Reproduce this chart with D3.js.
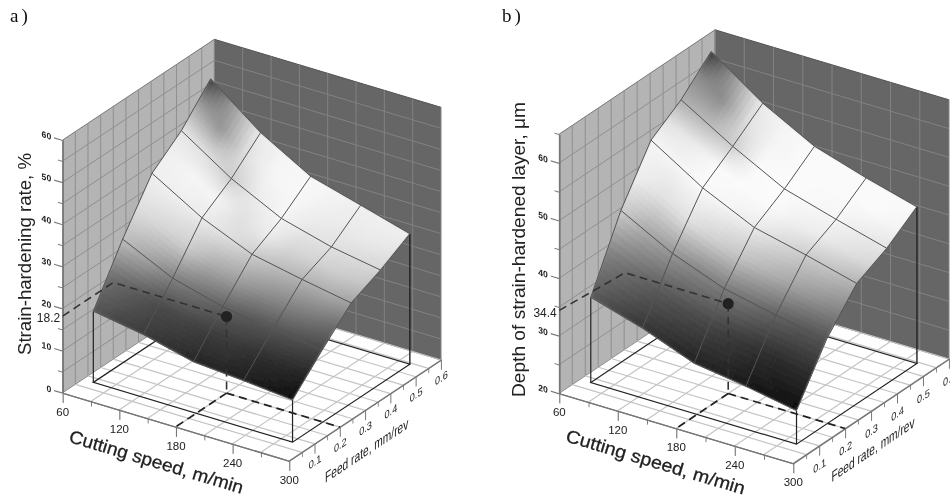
<!DOCTYPE html>
<html>
<head>
<meta charset="utf-8">
<script src="https://cdn.jsdelivr.net/npm/d3@7"></script>
<style>
  body { margin: 0; background: #fff; }
  svg { display: block; }
  text { font-family: "Liberation Sans", Arial, sans-serif; fill: #222; }
  .tag { font-family: "Liberation Serif", serif; font-size: 19px; letter-spacing: 3px; fill: #111; }
</style>
</head>
<body>
<svg id="chart" width="950" height="497">
  <defs>
    <filter id="soft" filterUnits="userSpaceOnUse" x="0" y="0" width="950" height="497"><feGaussianBlur stdDeviation="0.4"/></filter>
    <filter id="softer" filterUnits="userSpaceOnUse" x="0" y="0" width="950" height="497"><feGaussianBlur stdDeviation="1"/></filter>
  </defs>
</svg>
<script>
var speedTicks = [60, 120, 180, 240, 300]
var speedMinor = [90, 150, 210, 270]
var feedTicks = [0.1, 0.2, 0.3, 0.4, 0.5, 0.6]
var feedMinor = [0.05, 0.15, 0.25, 0.35, 0.45, 0.55]
var speedGrid = [60, 90, 120, 150, 180, 210, 240, 270, 300]
var feedGrid = [0, 0.05, 0.1, 0.15, 0.2, 0.25, 0.3, 0.35, 0.4, 0.45, 0.5, 0.55, 0.6]

// surface nodes, same for both charts
var surfSpeeds = [71, 124, 177, 230, 282]
var surfFeeds = [0.08, 0.196, 0.312, 0.428, 0.544]

var zTicksA = [0, 10, 20, 30, 40, 50, 60]
var zMinorA = [5, 15, 25, 35, 45, 55]
var zGridA = [0, 5, 10, 15, 20, 25, 30, 35, 40, 45, 50, 55, 60]
var zTicksB = [20, 30, 40, 50, 60]
var zMinorB = [25, 35, 45, 55, 65]
var zGridB = [20, 25, 30, 35, 40, 45, 50, 55, 60, 65]

// rows = feed (front to back), columns = speed
var surfA = [
  [16.9, 14.9, 12.0, 11.1, 10.0],
  [29.4, 23.7, 20.5, 18.7, 17.1],
  [40.4, 33.4, 28.3, 25.9, 23.8],
  [45.9, 38.1, 32.2, 29.0, 27.0],
  [53.6, 44.4, 37.6, 34.3, 31.0]
]
var surfB = [
  [34.8, 32.1, 28.7, 27.4, 25.8],
  [46.4, 41.6, 38.2, 36.3, 34.7],
  [55.1, 49.5, 45.3, 43.2, 40.9],
  [58.6, 53.2, 48.5, 45.9, 43.5],
  [63.5, 57.2, 52.4, 49.6, 47.2]
]

// grey level at half grid steps
var shadeA = [
  [85, 70, 60, 50, 40, 38, 32, 25, 15],
  [115, 95, 75, 70, 60, 58, 50, 45, 40],
  [190, 165, 130, 115, 100, 90, 85, 80, 72],
  [225, 215, 205, 175, 160, 145, 135, 125, 110],
  [240, 240, 235, 225, 205, 190, 180, 175, 165],
  [240, 245, 245, 225, 235, 215, 210, 205, 195],
  [230, 225, 205, 235, 245, 230, 225, 220, 215],
  [165, 150, 225, 245, 248, 240, 235, 235, 230],
  [60, 160, 235, 245, 248, 245, 240, 240, 240]
]
var shadeB = [
  [90, 70, 55, 45, 35, 35, 25, 20, 15],
  [130, 110, 90, 80, 70, 60, 50, 45, 45],
  [205, 170, 150, 135, 125, 115, 100, 90, 85],
  [240, 225, 225, 210, 195, 180, 165, 150, 135],
  [245, 245, 250, 245, 235, 220, 205, 195, 180],
  [225, 235, 250, 250, 250, 240, 235, 225, 215],
  [175, 185, 205, 250, 252, 248, 245, 235, 230],
  [140, 140, 225, 245, 250, 250, 250, 250, 245],
  [55, 160, 235, 245, 250, 250, 250, 250, 250]
]

// dashed guide: [speed, feed, z]
var guideA = [[60, 0, 18.2], [60, 0.2, 18.2], [180, 0.2, 18.2]]
var guideB = [[60, 0, 34.4], [60, 0.253, 33.3], [180, 0.2, 35.6]]

var svg = d3.select('#chart')
var SUB = 12 //paint steps per surface cell

drawPanel({
  id: 'a', tag: 'a)', tagX: 10,
  origin: [62.7, 392.7], speedVec: [226.6, 68], feedVec: [151.7, -100.7], zHeight: 252.7,
  zDomain: [0, 60], zTicks: zTicksA, zMinor: zMinorA, zGrid: zGridA,
  surf: surfA, shade: shadeA, guide: guideA, reading: '18.2',
  zTitle: 'Strain-hardening rate, %', zTitleX: 30.7, zTitleY: 254, zTitleLen: 202,
  speedTitleAt: [156.5, 461.5], speedTitleLen: 181,
  feedTitleAt: [366.7, 450], feedLabelPad: 4.1
})

drawPanel({
  id: 'b', tag: 'b)', tagX: 502,
  origin: [559.3, 393.3], speedVec: [234, 70], feedVec: [155.7, -104.3], zHeight: 259.2,
  zDomain: [20, 65], zTicks: zTicksB, zMinor: zMinorB, zGrid: zGridB,
  surf: surfB, shade: shadeB, guide: guideB, reading: '34.4',
  zTitle: 'Depth of strain-hardened layer, \u03bcm', zTitleX: 524.5, zTitleY: 249.5, zTitleLen: 295,
  speedTitleAt: [655.8, 461.7], speedTitleLen: 186,
  feedTitleAt: [873, 449], feedLabelPad: 6.1
})

function drawPanel(c) {
  var speedS = d3.scaleLinear().domain([60, 300]).range([0, 1])
  var feedS = d3.scaleLinear().domain([0, 0.6]).range([0, 1])
  var zS = d3.scaleLinear().domain(c.zDomain).range([0, c.zHeight])
  var zMin = c.zDomain[0], zMax = c.zDomain[1]

  function project(s, f, z) {
    var a = speedS(s), b = feedS(f)
    return [
      c.origin[0] + a * c.speedVec[0] + b * c.feedVec[0],
      c.origin[1] + a * c.speedVec[1] + b * c.feedVec[1] - zS(z)
    ]
  }

  var g = svg.append('g').attr('filter', 'url(#soft)')
  var line = d3.line()
  function poly(pts, fill) { g.append('path').attr('d', line(pts) + 'Z').attr('fill', fill) }
  function seg(pts, stroke, w, dash) {
    g.append('path').attr('d', line(pts)).attr('fill', 'none')
      .attr('stroke', stroke).attr('stroke-width', w).attr('stroke-dasharray', dash || null)
  }

  g.append('text').attr('class', 'tag').attr('x', c.tagX).attr('y', 21.5).text(c.tag)

  // walls
  poly([project(60, 0, zMin), project(60, 0.6, zMin), project(60, 0.6, zMax), project(60, 0, zMax)], '#b4b4b4')
  poly([project(60, 0.6, zMin), project(300, 0.6, zMin), project(300, 0.6, zMax), project(60, 0.6, zMax)], '#666')

  c.zGrid.forEach(function(z) {
    seg([project(60, 0, z), project(60, 0.6, z)], z == zMax ? '#777' : '#8f8f8f', 1)
    seg([project(60, 0.6, z), project(300, 0.6, z)], z == zMax ? '#555' : '#828282', 1)
  })
  feedGrid.forEach(function(f) {
    seg([project(60, f, zMin), project(60, f, zMax)], '#8f8f8f', 1)
    if (f > 0) seg([project(60, f, zMin), project(300, f, zMin)], '#c4c4c4', 1.2)
  })
  speedGrid.forEach(function(s) {
    seg([project(s, 0.6, zMin), project(s, 0.6, zMax)], '#828282', 1)
    if (s > 60) seg([project(s, 0, zMin), project(s, 0.6, zMin)], '#c4c4c4', 1.2)
  })

  // axes share the floor's shear, ticks stay vertical
  function shear(vec, o) {
    var len = Math.hypot(vec[0], vec[1])
    return { len: len, tf: 'matrix(' + [vec[0] / len, vec[1] / len, 0, 1, o[0], o[1]].join(',') + ')' }
  }
  function styleAxis(sel, w) {
    sel.selectAll('path.domain').attr('stroke', '#777').attr('stroke-width', 1.3)
    sel.selectAll('line').attr('stroke', '#777').attr('stroke-width', w)
  }

  var sA = shear(c.speedVec, c.origin)
  var sx = d3.scaleLinear().domain([60, 300]).range([0, sA.len])
  g.append('g').attr('transform', sA.tf)
    .call(d3.axisBottom(sx).tickValues(speedTicks).tickSize(10).tickSizeOuter(0).tickFormat(''))
    .call(styleAxis, 1.2)
  g.append('g').attr('transform', sA.tf)
    .call(d3.axisBottom(sx).tickValues(speedMinor).tickSize(5).tickSizeOuter(0).tickFormat(''))
    .call(styleAxis, 1)
  speedTicks.forEach(function(s) {
    var p = project(s, 0, zMin)
    g.append('text').attr('x', p[0]).attr('y', p[1] + 19).attr('dy', '.36em')
      .attr('text-anchor', 'middle').attr('font-size', 11.5).attr('fill', '#333').text(s)
  })

  var fA = shear(c.feedVec, project(300, 0, zMin))
  var fx = d3.scaleLinear().domain([0, 0.6]).range([0, fA.len])
  g.append('g').attr('transform', fA.tf)
    .call(d3.axisBottom(fx).tickValues(feedTicks).tickSize(10).tickSizeOuter(0).tickPadding(c.feedLabelPad).tickFormat(d3.format('.1f')))
    .call(styleAxis, 1.2)
    .call(function(a) { a.selectAll('text').attr('font-size', 11).attr('font-family', '"Liberation Sans"').attr('fill', '#222') })
  g.append('g').attr('transform', fA.tf)
    .call(d3.axisBottom(fx).tickValues(feedMinor).tickSize(5).tickSizeOuter(0).tickFormat(''))
    .call(styleAxis, 1)

  var zA = shear(c.speedVec, c.origin)
  var zy = d3.scaleLinear().domain(c.zDomain).range([0, -c.zHeight])
  g.append('g').attr('transform', zA.tf)
    .call(d3.axisLeft(zy).tickValues(c.zTicks).tickSize(9).tickSizeOuter(0).tickPadding(3).tickFormat(d3.format('d')))
    .call(styleAxis, 1.2)
    .call(function(a) { a.selectAll('text').attr('font-size', 9).attr('font-weight', 700).attr('font-family', '"Liberation Sans"').attr('fill', '#222') })
  g.append('g').attr('transform', zA.tf)
    .call(d3.axisLeft(zy).tickValues(c.zMinor).tickSize(5).tickSizeOuter(0).tickFormat(''))
    .call(styleAxis, 1)

  // box under the surface
  var s0 = surfSpeeds[0], s1 = surfSpeeds[4], f0 = surfFeeds[0], f1 = surfFeeds[4]
  seg([project(s0, f1, zMin), project(s0, f0, zMin), project(s1, f0, zMin), project(s1, f1, zMin), project(s0, f1, zMin)], '#222', 1.2)
  seg([project(s0, f0, zMin), project(s0, f0, c.surf[0][0])], '#222', 1.2)
  seg([project(s1, f0, zMin), project(s1, f0, c.surf[0][4])], '#222', 1.2)
  seg([project(s1, f1, zMin), project(s1, f1, c.surf[4][4])], '#222', 1.4)

  // surface painted back to front, grey from the read-off table
  var cells = []
  var nF = surfFeeds.length - 1, nS = surfSpeeds.length - 1
  var feedAt = d3.scaleLinear().domain(d3.range(nF + 1)).range(surfFeeds)
  var speedAt = d3.scaleLinear().domain(d3.range(nS + 1)).range(surfSpeeds)
  function bilerp(t, u, v) {
    var i = Math.min(Math.floor(v), t.length - 2), j = Math.min(Math.floor(u), t[0].length - 2)
    var a = u - j, b = v - i
    return (t[i][j] * (1 - a) + t[i][j + 1] * a) * (1 - b) + (t[i + 1][j] * (1 - a) + t[i + 1][j + 1] * a) * b
  }
  function node(u, v) { return project(speedAt(u), feedAt(v), bilerp(c.surf, u, v)) }

  for (var r = nF * SUB - 1; r >= 0; r--) {
    for (var q = 0; q < nS * SUB; q++) {
      var u0 = q / SUB, u1 = (q + 1) / SUB, v0 = r / SUB, v1 = (r + 1) / SUB
      var grey = Math.round(bilerp(c.shade, (u0 + u1), (v0 + v1)))
      cells.push({ d: line([node(u0, v0), node(u1, v0), node(u1, v1), node(u0, v1)]) + 'Z', col: d3.rgb(grey, grey, grey) })
    }
  }
  // outline keeps the blur from bleeding over the walls
  var outline = []
  d3.range(0, nS + 1).forEach(function(u) { outline.push(node(u, 0)) })
  d3.range(1, nF + 1).forEach(function(v) { outline.push(node(nS, v)) })
  d3.range(nS - 1, -1, -1).forEach(function(u) { outline.push(node(u, nF)) })
  d3.range(nF - 1, 0, -1).forEach(function(v) { outline.push(node(0, v)) })
  svg.select('defs').append('clipPath').attr('id', 'clip-' + c.id)
    .append('path').attr('d', line(outline) + 'Z')

  g.append('g').attr('clip-path', 'url(#clip-' + c.id + ')')
    .append('g').attr('filter', 'url(#softer)')
    .selectAll('path').data(cells).join('path')
    .attr('d', function(d) { return d.d })
    .attr('fill', function(d) { return d.col })
    .attr('stroke', function(d) { return d.col })
    .attr('stroke-width', 1.2)

  // grid lines on the surface
  c.surf.forEach(function(row, i) {
    seg(row.map(function(z, j) { return project(surfSpeeds[j], surfFeeds[i], z) }), '#555', 1)
  })
  surfSpeeds.forEach(function(s, j) {
    seg(c.surf.map(function(row, i) { return project(s, surfFeeds[i], row[j]) }), '#555', 1)
  })

  // guide lines and the reading
  var gp = c.guide.map(function(d) { return project(d[0], d[1], d[2]) })
  var m = c.guide[2]
  seg(gp, '#333', 1.6, '8,5')
  seg([gp[2], project(m[0], m[1], zMin)], '#333', 1.6, '8,5')
  seg([project(m[0], m[1], zMin), project(m[0], 0, zMin)], '#222', 1.7, '8,5')
  seg([project(m[0], m[1], zMin), project(300, m[1], zMin)], '#222', 1.7, '8,5')
  g.append('circle').attr('cx', gp[2][0]).attr('cy', gp[2][1]).attr('r', 5.6).attr('fill', '#222')

  g.append('text').attr('x', gp[0][0] - 2.5).attr('y', gp[0][1] + 2).attr('dy', '.36em')
    .attr('text-anchor', 'end').attr('font-size', 12).attr('fill', '#444').text(c.reading)

  // axis titles
  g.append('text').attr('transform', 'translate(' + c.zTitleX + ',' + c.zTitleY + ') rotate(-90)')
    .attr('text-anchor', 'middle').attr('font-size', 19).attr('textLength', c.zTitleLen).attr('lengthAdjust', 'spacingAndGlyphs')
    .attr('fill', '#1a1a1a').text(c.zTitle)
  var ang = Math.atan2(c.speedVec[1], c.speedVec[0]) * 180 / Math.PI
  g.append('text').attr('transform', 'translate(' + c.speedTitleAt + ') rotate(' + ang + ')')
    .attr('dy', '.36em').attr('text-anchor', 'middle').attr('font-size', 18)
    .attr('textLength', c.speedTitleLen).attr('lengthAdjust', 'spacingAndGlyphs')
    .attr('fill', '#111').attr('stroke', '#111').attr('stroke-width', 0.25)
    .text('Cutting speed, m/min')
  g.append('text').attr('transform', shear(c.feedVec, c.feedTitleAt).tf)
    .attr('dy', '.36em').attr('text-anchor', 'middle').attr('font-size', 15)
    .attr('textLength', 100).attr('lengthAdjust', 'spacingAndGlyphs').attr('fill', '#111').text('Feed rate, mm/rev')
}
</script>
</body>
</html>
